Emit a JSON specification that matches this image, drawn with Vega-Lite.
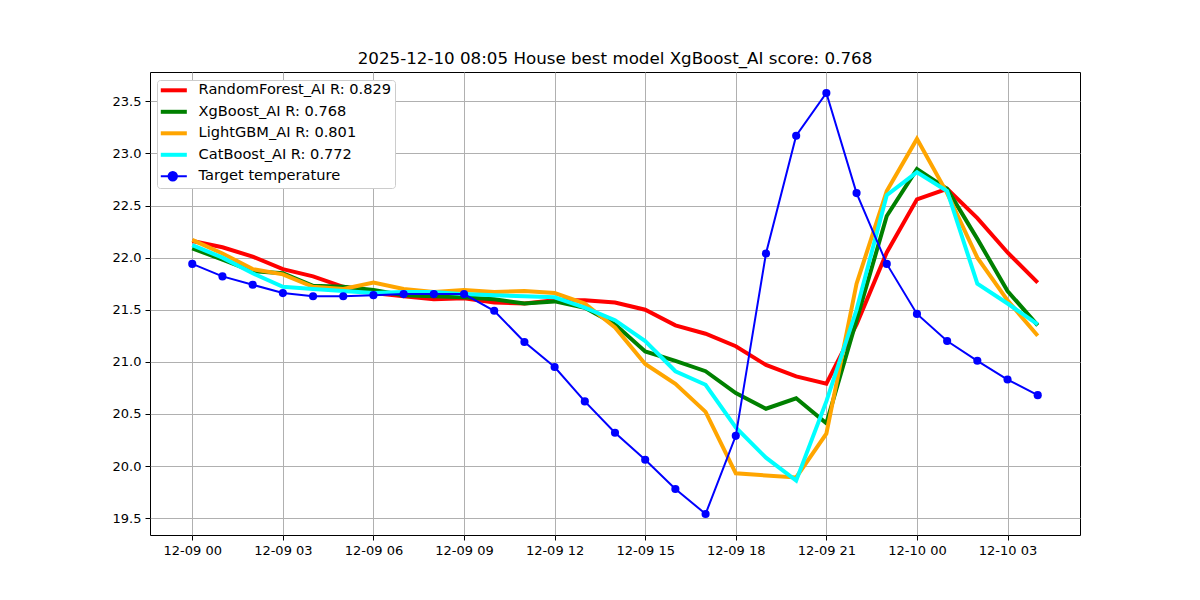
{
  "$schema": "https://vega.github.io/schema/vega-lite/v6.json",
  "width": 930,
  "height": 463,
  "autosize": {"type": "none"},
  "padding": {"left": 150, "top": 72, "right": 120, "bottom": 65},
  "background": "white",
  "title": {
    "text": "2025-12-10 08:05 House best model XgBoost_AI score: 0.768",
    "font": "DejaVu Sans",
    "fontSize": 16.7,
    "fontWeight": "normal",
    "color": "black",
    "anchor": "middle"
  },
  "config": {
    "view": {"stroke": "black", "strokeWidth": 1},
    "axis": {
      "labelFont": "DejaVu Sans",
      "labelFontSize": 13,
      "labelColor": "black",
      "tickColor": "black",
      "tickSize": 5,
      "tickWidth": 1,
      "labelPadding": 4,
      "gridColor": "#b0b0b0",
      "gridWidth": 1,
      "domain": false
    }
  },
  "data": {
    "values": [
      {"t": "2025-12-09T00:00:00", "rf": 22.16, "xgb": 22.09, "lgbm": 22.17, "cat": 22.12, "target": 21.94},
      {"t": "2025-12-09T01:00:00", "rf": 22.10, "xgb": 21.98, "lgbm": 22.04, "cat": 22.00, "target": 21.82},
      {"t": "2025-12-09T02:00:00", "rf": 22.01, "xgb": 21.87, "lgbm": 21.89, "cat": 21.85, "target": 21.74},
      {"t": "2025-12-09T03:00:00", "rf": 21.89, "xgb": 21.85, "lgbm": 21.84, "cat": 21.72, "target": 21.66},
      {"t": "2025-12-09T04:00:00", "rf": 21.82, "xgb": 21.73, "lgbm": 21.72, "cat": 21.70, "target": 21.63},
      {"t": "2025-12-09T05:00:00", "rf": 21.72, "xgb": 21.72, "lgbm": 21.70, "cat": 21.68, "target": 21.63},
      {"t": "2025-12-09T06:00:00", "rf": 21.66, "xgb": 21.69, "lgbm": 21.76, "cat": 21.66, "target": 21.64},
      {"t": "2025-12-09T07:00:00", "rf": 21.63, "xgb": 21.64, "lgbm": 21.70, "cat": 21.67, "target": 21.65},
      {"t": "2025-12-09T08:00:00", "rf": 21.60, "xgb": 21.63, "lgbm": 21.67, "cat": 21.67, "target": 21.65},
      {"t": "2025-12-09T09:00:00", "rf": 21.61, "xgb": 21.62, "lgbm": 21.69, "cat": 21.65, "target": 21.65},
      {"t": "2025-12-09T10:00:00", "rf": 21.57, "xgb": 21.60, "lgbm": 21.67, "cat": 21.64, "target": 21.49},
      {"t": "2025-12-09T11:00:00", "rf": 21.56, "xgb": 21.56, "lgbm": 21.68, "cat": 21.63, "target": 21.19},
      {"t": "2025-12-09T12:00:00", "rf": 21.59, "xgb": 21.58, "lgbm": 21.66, "cat": 21.62, "target": 20.95},
      {"t": "2025-12-09T13:00:00", "rf": 21.59, "xgb": 21.52, "lgbm": 21.56, "cat": 21.52, "target": 20.62},
      {"t": "2025-12-09T14:00:00", "rf": 21.57, "xgb": 21.36, "lgbm": 21.33, "cat": 21.40, "target": 20.32},
      {"t": "2025-12-09T15:00:00", "rf": 21.50, "xgb": 21.10, "lgbm": 20.98, "cat": 21.20, "target": 20.06},
      {"t": "2025-12-09T16:00:00", "rf": 21.35, "xgb": 21.01, "lgbm": 20.79, "cat": 20.91, "target": 19.78},
      {"t": "2025-12-09T17:00:00", "rf": 21.27, "xgb": 20.91, "lgbm": 20.52, "cat": 20.78, "target": 19.54},
      {"t": "2025-12-09T18:00:00", "rf": 21.15, "xgb": 20.70, "lgbm": 19.93, "cat": 20.37, "target": 20.29},
      {"t": "2025-12-09T19:00:00", "rf": 20.97, "xgb": 20.55, "lgbm": 19.91, "cat": 20.08, "target": 22.04},
      {"t": "2025-12-09T20:00:00", "rf": 20.86, "xgb": 20.65, "lgbm": 19.89, "cat": 19.86, "target": 23.17},
      {"t": "2025-12-09T21:00:00", "rf": 20.79, "xgb": 20.41, "lgbm": 20.31, "cat": 20.62, "target": 23.58},
      {"t": "2025-12-09T22:00:00", "rf": 21.36, "xgb": 21.40, "lgbm": 21.75, "cat": 21.50, "target": 22.62},
      {"t": "2025-12-09T23:00:00", "rf": 22.05, "xgb": 22.40, "lgbm": 22.64, "cat": 22.60, "target": 21.94},
      {"t": "2025-12-10T00:00:00", "rf": 22.56, "xgb": 22.85, "lgbm": 23.14, "cat": 22.82, "target": 21.46},
      {"t": "2025-12-10T01:00:00", "rf": 22.66, "xgb": 22.66, "lgbm": 22.62, "cat": 22.64, "target": 21.20},
      {"t": "2025-12-10T02:00:00", "rf": 22.38, "xgb": 22.18, "lgbm": 22.00, "cat": 21.75, "target": 21.01},
      {"t": "2025-12-10T03:00:00", "rf": 22.05, "xgb": 21.68, "lgbm": 21.59, "cat": 21.56, "target": 20.83},
      {"t": "2025-12-10T04:00:00", "rf": 21.76, "xgb": 21.35, "lgbm": 21.25, "cat": 21.36, "target": 20.68}
    ]
  },
  "encoding": {
    "x": {
      "field": "t",
      "type": "temporal",
      "title": null,
      "scale": {"domain": [
        {"year": 2025, "month": 12, "date": 8, "hours": 22, "minutes": 36},
        {"year": 2025, "month": 12, "date": 10, "hours": 5, "minutes": 24}
      ]},
      "axis": {
        "format": "%m-%d %H",
        "values": [
          {"year": 2025, "month": 12, "date": 9, "hours": 0},
          {"year": 2025, "month": 12, "date": 9, "hours": 3},
          {"year": 2025, "month": 12, "date": 9, "hours": 6},
          {"year": 2025, "month": 12, "date": 9, "hours": 9},
          {"year": 2025, "month": 12, "date": 9, "hours": 12},
          {"year": 2025, "month": 12, "date": 9, "hours": 15},
          {"year": 2025, "month": 12, "date": 9, "hours": 18},
          {"year": 2025, "month": 12, "date": 9, "hours": 21},
          {"year": 2025, "month": 12, "date": 10, "hours": 0},
          {"year": 2025, "month": 12, "date": 10, "hours": 3}
        ],
        "labelFlush": false,
        "labelOverlap": false
      }
    }
  },
  "layer": [
    {
      "mark": {"type": "line", "strokeWidth": 4},
      "encoding": {
        "y": {
          "field": "rf",
          "type": "quantitative",
          "title": null,
          "scale": {"domain": [19.338, 23.782], "nice": false, "zero": false},
          "axis": {
            "values": [19.5, 20.0, 20.5, 21.0, 21.5, 22.0, 22.5, 23.0, 23.5],
            "format": ".1f"
          }
        },
        "color": {
          "datum": "RandomForest_AI R: 0.829",
          "type": "nominal",
          "title": null,
          "scale": {
            "domain": ["RandomForest_AI R: 0.829", "XgBoost_AI R: 0.768", "LightGBM_AI R: 0.801", "CatBoost_AI R: 0.772", "Target temperature"],
            "range": ["red", "green", "orange", "cyan", "blue"]
          },
          "legend": {
            "orient": "none",
            "legendX": 7,
            "legendY": 8,
            "padding": 3,
            "fillColor": "white",
            "strokeColor": "#cccccc",
            "cornerRadius": 3,
            "labelFont": "DejaVu Sans",
            "labelFontSize": 14.6,
            "labelColor": "black",
            "labelOffset": 24,
            "labelLimit": 400,
            "symbolType": "M-0.62,0L1.86,0",
            "symbolSize": 441,
            "symbolStrokeWidth": 4,
            "rowPadding": 4.5,
            "encode": {
              "symbols": {
                "update": {
                  "shape": {"signal": "datum.value === 'Target temperature' ? 'M-0.62,0L1.86,0M0.92,0A0.4,0.4,0,1,1,0.12,0A0.4,0.4,0,1,1,0.92,0Z' : 'M-0.62,0L1.86,0'"},
                  "strokeWidth": {"signal": "datum.value === 'Target temperature' ? 2 : 4"},
                  "fill": {"signal": "datum.value === 'Target temperature' ? 'blue' : 'transparent'"},
                  "fillOpacity": {"value": 1}
                }
              }
            }
          }
        }
      }
    },
    {
      "mark": {"type": "line", "strokeWidth": 4},
      "encoding": {
        "y": {"field": "xgb", "type": "quantitative"},
        "color": {"datum": "XgBoost_AI R: 0.768", "type": "nominal"}
      }
    },
    {
      "mark": {"type": "line", "strokeWidth": 4},
      "encoding": {
        "y": {"field": "lgbm", "type": "quantitative"},
        "color": {"datum": "LightGBM_AI R: 0.801", "type": "nominal"}
      }
    },
    {
      "mark": {"type": "line", "strokeWidth": 4},
      "encoding": {
        "y": {"field": "cat", "type": "quantitative"},
        "color": {"datum": "CatBoost_AI R: 0.772", "type": "nominal"}
      }
    },
    {
      "mark": {"type": "line", "strokeWidth": 2},
      "encoding": {
        "y": {"field": "target", "type": "quantitative"},
        "color": {"datum": "Target temperature", "type": "nominal"}
      }
    },
    {
      "mark": {"type": "point", "filled": true, "size": 66, "color": "blue", "opacity": 1},
      "encoding": {
        "y": {"field": "target", "type": "quantitative"}
      }
    }
  ]
}
